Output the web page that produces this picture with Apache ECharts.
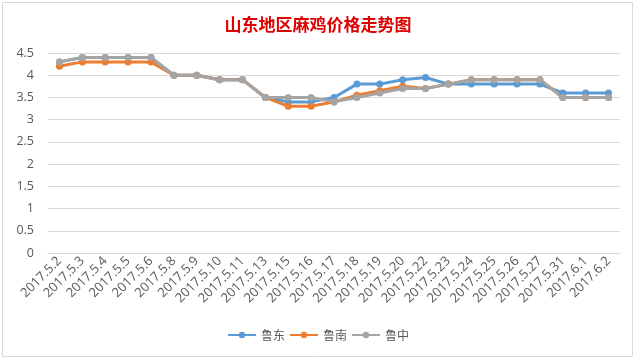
<!DOCTYPE html>
<html>
<head>
<meta charset="utf-8">
<script src="https://cdn.jsdelivr.net/npm/echarts@6/dist/echarts.min.js"></script>
<style>html,body{margin:0;padding:0;background:#fff;}#c{width:636px;height:361px;}</style>
</head>
<body>
<div id="c"></div>
<script>
const categories = ['2017.5.2','2017.5.3','2017.5.4','2017.5.5','2017.5.6','2017.5.8','2017.5.9','2017.5.10','2017.5.11','2017.5.13','2017.5.15','2017.5.16','2017.5.17','2017.5.18','2017.5.19','2017.5.20','2017.5.22','2017.5.23','2017.5.24','2017.5.25','2017.5.26','2017.5.27','2017.5.31','2017.6.1','2017.6.2'];
const ludong   = [4.3,4.4,4.4,4.4,4.4,4.0,4.0,3.9,3.9,3.5,3.4,3.4,3.5,3.8,3.8,3.9,3.95,3.8,3.8,3.8,3.8,3.8,3.6,3.6,3.6];
const lunan    = [4.2,4.3,4.3,4.3,4.3,4.0,4.0,3.9,3.9,3.5,3.3,3.3,3.4,3.55,3.65,3.75,3.7,3.8,3.9,3.9,3.9,3.9,3.5,3.5,3.5];
const luzhong  = [4.3,4.4,4.4,4.4,4.4,4.0,4.0,3.9,3.9,3.5,3.5,3.5,3.4,3.5,3.6,3.7,3.7,3.8,3.9,3.9,3.9,3.9,3.5,3.5,3.5];
const seriesNames = ['鲁东','鲁南','鲁中'];
const colors = ['#5B9BD5','#ED7D31','#A5A5A5'];

const chart = echarts.init(document.getElementById('c'), null, {renderer:'canvas'});
const mk = (name, data, color) => ({
  name, type:'line', data, color,
  symbol:'circle', symbolSize:7,
  lineStyle:{width:3, color},
  itemStyle:{color},
  emphasis:{disabled:true},
  animation:false
});
chart.setOption({
  animation:false,
  title:{
    text:'山东地区麻鸡价格走势图', left:'center', top:11,
    textStyle:{color:'#E00000', fontSize:17, fontWeight:'bold', fontFamily:'"Noto Sans CJK SC", sans-serif'}
  },
  graphic:[{type:'rect', shape:{x:2.5,y:2.5,width:630,height:354}, style:{fill:'none', stroke:'#d9d9d9', lineWidth:1}, silent:true}],
  legend:{
    data:seriesNames, bottom:15, left:'center',
    itemWidth:28, itemHeight:8, itemGap:4,
    textStyle:{color:'#595959', fontSize:12, fontFamily:'"Noto Sans CJK SC", sans-serif'}
  },
  grid:{left:48, right:16, top:53, bottom:108},
  xAxis:{
    type:'category', data:categories, boundaryGap:true,
    axisLine:{lineStyle:{color:'#d9d9d9'}},
    axisTick:{show:false},
    axisLabel:{rotate:45, interval:0, color:'#595959', fontSize:13, fontFamily:'"Open Sans", sans-serif', margin:6}
  },
  yAxis:{
    type:'value', min:0, max:4.5, interval:0.5,
    axisLine:{show:false}, axisTick:{show:false},
    splitLine:{lineStyle:{color:'#d9d9d9'}},
    axisLabel:{color:'#595959', fontSize:12.5, fontFamily:'"Open Sans", sans-serif', margin:14}
  },
  series:[mk(seriesNames[0], ludong, colors[0]), mk(seriesNames[1], lunan, colors[1]), mk(seriesNames[2], luzhong, colors[2])]
});
</script>
</body>
</html>
